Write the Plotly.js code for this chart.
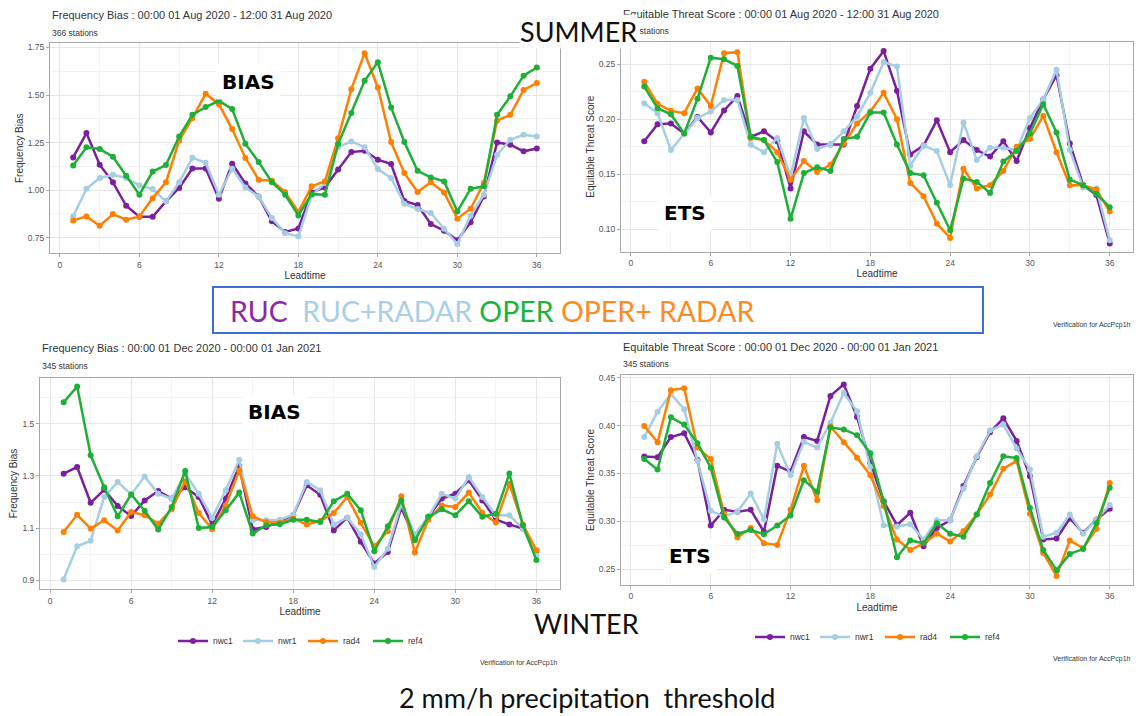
<!DOCTYPE html>
<html><head><meta charset="utf-8">
<script src="https://cdn.plot.ly/plotly-3.0.1.min.js"></script>
<style>html,body{margin:0;padding:0;background:#fff}#chart{width:1140px;height:716px}</style>
</head><body><div id="chart"></div>
<script>
// ---------- data ----------
const leadtime = [1,2,3,4,5,6,7,8,9,10,11,12,13,14,15,16,17,18,19,20,21,22,23,24,25,26,27,28,29,30,31,32,33,34,35,36];
const seriesNames = ["nwc1","nwr1","rad4","ref4"];
const seriesColors = ["#7A1F9E","#A6CEE3","#FF8000","#1DAF36"];

const summerBias_nwc1 = [1.172,1.300,1.134,1.041,0.918,0.860,0.860,0.941,1.011,1.114,1.114,0.955,1.139,1.035,0.967,0.836,0.780,0.799,0.988,1.014,1.109,1.200,1.207,1.160,1.137,0.943,0.922,0.822,0.787,0.736,0.831,0.967,1.251,1.239,1.204,1.219];
const summerBias_nwr1 = [0.862,1.007,1.064,1.081,1.064,1.025,1.006,0.941,1.041,1.170,1.144,0.976,1.113,1.014,0.967,0.853,0.774,0.757,0.971,1.037,1.226,1.256,1.226,1.111,1.064,0.929,0.901,0.880,0.797,0.717,0.866,0.976,1.186,1.265,1.291,1.282];
const summerBias_rad4 = [0.841,0.862,0.813,0.874,0.845,0.862,0.958,1.041,1.261,1.379,1.507,1.452,1.321,1.169,1.055,1.050,0.990,0.885,1.020,1.046,1.273,1.531,1.720,1.540,1.253,1.090,0.990,1.041,0.988,0.850,0.902,1.037,1.365,1.396,1.527,1.563];
const summerBias_ref4 = [1.130,1.225,1.216,1.176,1.076,0.976,1.098,1.132,1.282,1.396,1.437,1.470,1.426,1.244,1.148,1.042,0.976,0.867,0.979,0.976,1.242,1.405,1.575,1.673,1.435,1.253,1.102,1.067,1.046,0.888,1.007,1.020,1.396,1.493,1.602,1.645];

const summerETS_nwc1 = [0.180,0.1955,0.196,0.187,0.202,0.188,0.208,0.221,0.184,0.189,0.180,0.137,0.189,0.177,0.177,0.177,0.212,0.246,0.262,0.226,0.168,0.176,0.199,0.170,0.181,0.172,0.166,0.180,0.162,0.192,0.218,0.240,0.178,0.140,0.131,0.087];
const summerETS_nwr1 = [0.2145,0.2055,0.172,0.187,0.201,0.207,0.2175,0.2175,0.1767,0.170,0.183,0.148,0.201,0.173,0.177,0.189,0.2025,0.224,0.252,0.248,0.158,0.176,0.171,0.140,0.197,0.163,0.174,0.174,0.172,0.201,0.218,0.245,0.172,0.138,0.137,0.090];
const summerETS_rad4 = [0.234,0.214,0.2076,0.2055,0.228,0.212,0.260,0.261,0.183,0.181,0.170,0.145,0.162,0.152,0.1585,0.178,0.196,0.207,0.224,0.200,0.142,0.130,0.105,0.092,0.155,0.137,0.140,0.153,0.175,0.182,0.203,0.170,0.140,0.140,0.136,0.116];
const summerETS_ref4 = [0.2297,0.210,0.2045,0.187,0.2185,0.256,0.2545,0.2485,0.184,0.181,0.161,0.1094,0.151,0.1564,0.153,0.182,0.184,0.206,0.206,0.177,0.151,0.149,0.124,0.099,0.146,0.143,0.133,0.1615,0.171,0.187,0.2136,0.188,0.145,0.140,0.132,0.120];

const winterBias_nwc1 = [1.3085,1.334,1.197,1.247,1.185,1.146,1.206,1.242,1.213,1.257,1.219,1.113,1.213,1.337,1.095,1.104,1.127,1.149,1.264,1.228,1.091,1.140,1.047,0.964,1.008,1.178,1.060,1.143,1.213,1.232,1.283,1.206,1.132,1.114,1.098,1.012];
const winterBias_nwr1 = [0.903,1.030,1.051,1.219,1.277,1.229,1.298,1.232,1.213,1.309,1.232,1.139,1.245,1.362,1.130,1.130,1.132,1.151,1.277,1.245,1.114,1.140,1.076,0.951,1.021,1.191,1.076,1.143,1.232,1.213,1.296,1.219,1.149,1.149,1.098,0.996];
const winterBias_rad4 = [1.085,1.151,1.098,1.130,1.091,1.162,1.149,1.117,1.172,1.280,1.158,1.095,1.187,1.321,1.145,1.123,1.120,1.136,1.114,1.127,1.158,1.219,1.120,1.030,1.088,1.222,1.006,1.132,1.187,1.181,1.236,1.158,1.121,1.270,1.114,1.015];
const winterBias_ref4 = [1.583,1.643,1.379,1.257,1.145,1.229,1.166,1.094,1.181,1.319,1.100,1.104,1.168,1.236,1.079,1.111,1.115,1.132,1.132,1.123,1.203,1.232,1.168,1.011,1.107,1.206,1.053,1.143,1.172,1.149,1.203,1.143,1.155,1.309,1.111,0.977];

const winterETS_nwc1 = [0.3676,0.367,0.388,0.392,0.364,0.2956,0.312,0.310,0.312,0.289,0.358,0.352,0.388,0.384,0.431,0.443,0.409,0.361,0.321,0.296,0.309,0.274,0.293,0.301,0.337,0.367,0.393,0.4076,0.384,0.347,0.281,0.282,0.303,0.288,0.302,0.313];
const winterETS_nwr1 = [0.388,0.4145,0.433,0.417,0.363,0.311,0.305,0.310,0.329,0.302,0.381,0.348,0.383,0.377,0.403,0.434,0.415,0.357,0.296,0.2945,0.297,0.281,0.301,0.301,0.334,0.368,0.395,0.401,0.376,0.354,0.284,0.288,0.307,0.287,0.302,0.317];
const winterETS_rad4 = [0.3996,0.3825,0.437,0.439,0.377,0.365,0.308,0.283,0.293,0.277,0.2754,0.312,0.358,0.322,0.399,0.3825,0.3665,0.348,0.316,0.281,0.270,0.277,0.287,0.279,0.290,0.307,0.328,0.355,0.363,0.308,0.267,0.243,0.280,0.272,0.292,0.340];
const winterETS_ref4 = [0.365,0.354,0.4086,0.401,0.3815,0.356,0.304,0.287,0.291,0.2865,0.2956,0.306,0.343,0.331,0.398,0.396,0.390,0.371,0.321,0.2625,0.280,0.277,0.298,0.287,0.284,0.307,0.340,0.368,0.366,0.314,0.270,0.249,0.266,0.271,0.298,0.335];

const xTicks = [0,6,12,18,24,30,36];
const summerBiasTicks = [0.75,1.00,1.25,1.50,1.75];
const summerBiasTickText = ["0.75","1.00","1.25","1.50","1.75"];
const summerETSTicks = [0.10,0.15,0.20,0.25];
const summerETSTickText = ["0.10","0.15","0.20","0.25"];
const winterBiasTicks = [0.9,1.1,1.3,1.5];
const winterBiasTickText = ["0.9","1.1","1.3","1.5"];
const winterETSTicks = [0.25,0.30,0.35,0.40,0.45];
const winterETSTickText = ["0.25","0.30","0.35","0.40","0.45"];

// ---------- build ----------
const W = 1140, H = 716;
const FONT = "Liberation Sans, Arial, sans-serif";
const panels = [
  {ax:"", data:[summerBias_nwc1,summerBias_nwr1,summerBias_rad4,summerBias_ref4], legend:null},
  {ax:"2", data:[summerETS_nwc1,summerETS_nwr1,summerETS_rad4,summerETS_ref4], legend:null},
  {ax:"3", data:[winterBias_nwc1,winterBias_nwr1,winterBias_rad4,winterBias_ref4], legend:"legend"},
  {ax:"4", data:[winterETS_nwc1,winterETS_nwr1,winterETS_rad4,winterETS_ref4], legend:"legend2"}
];
const traces = [];
panels.forEach(p => {
  p.data.forEach((ys, i) => {
    traces.push({
      x: leadtime, y: ys, type: "scatter", mode: "lines+markers",
      xaxis: "x" + p.ax, yaxis: "y" + p.ax,
      name: seriesNames[i],
      line: {color: seriesColors[i], width: 2.5},
      marker: {color: seriesColors[i], size: 6},
      showlegend: !!p.legend,
      legend: p.legend || "legend",
      hoverinfo: "skip"
    });
  });
});

function px2x(px){ return px / W; }
function py2y(py){ return 1 - py / H; }

function xAxis(anchor, l, r){
  return {
    domain: [px2x(l), px2x(r)], anchor: anchor, range: [-0.75, 37.75],
    tickvals: xTicks, ticktext: xTicks.map(String),
    showgrid: true, gridcolor: "#E6E6E6", gridwidth: 1,
    minor: {dtick: 3, tick0: 0, showgrid: true, gridcolor: "#F3F3F3", gridwidth: 1},
    zeroline: false, showline: true, mirror: true, linecolor: "#A8A8A8", linewidth: 1,
    ticks: "outside", ticklen: 3, tickcolor: "#A8A8A8",
    tickfont: {family: FONT, size: 8.5, color: "#555"},
    title: {text: "Leadtime", font: {family: FONT, size: 10, color: "#333"}, standoff: 3},
    automargin: false, fixedrange: true
  };
}
function yAxis(anchor, t, b, range, tv, tt, minorStep, title){
  return {
    domain: [py2y(b), py2y(t)], anchor: anchor, range: range,
    tickvals: tv, ticktext: tt,
    showgrid: true, gridcolor: "#E6E6E6", gridwidth: 1,
    minor: {dtick: minorStep, tick0: tv[0], showgrid: true, gridcolor: "#F3F3F3", gridwidth: 1},
    zeroline: false, showline: true, mirror: true, linecolor: "#A8A8A8", linewidth: 1,
    ticks: "outside", ticklen: 3, tickcolor: "#A8A8A8",
    tickfont: {family: FONT, size: 8.5, color: "#555"},
    title: {text: title, font: {family: FONT, size: 10, color: "#333"}, standoff: 2},
    automargin: false, fixedrange: true
  };
}

const legendCommon = {orientation: "h", xanchor: "center", yanchor: "middle",
  font: {family: FONT, size: 8.5, color: "#333"}, bgcolor: "rgba(0,0,0,0)", itemwidth: 30,
  tracegroupgap: 0, entrywidth: 20, entrywidthmode: "pixels"};

const layout = {
  width: W, height: H, margin: {l:0, r:0, t:0, b:0},
  paper_bgcolor: "#fff", plot_bgcolor: "#fff",
  font: {family: FONT},
  xaxis: xAxis("y", 50, 560),
  yaxis: yAxis("x", 43.3, 253.3, [0.668, 1.772], summerBiasTicks, summerBiasTickText, 0.125, "Frequency Bias"),
  xaxis2: xAxis("y2", 621, 1133),
  yaxis2: yAxis("x2", 41.7, 251.7, [0.0795, 0.2705], summerETSTicks, summerETSTickText, 0.025, "Equitable Threat Score"),
  xaxis3: xAxis("y3", 40, 560),
  yaxis3: yAxis("x3", 377.7, 589.3, [0.865, 1.677], winterBiasTicks, winterBiasTickText, 0.1, "Frequency Bias"),
  xaxis4: xAxis("y4", 621, 1133),
  yaxis4: yAxis("x4", 375, 585, [0.2335, 0.4528], winterETSTicks, winterETSTickText, 0.025, "Equitable Threat Score"),
  legend: Object.assign({}, legendCommon, {x: px2x(303), y: py2y(641)}),
  legend2: Object.assign({}, legendCommon, {x: px2x(880), y: py2y(637)}),
  shapes: [
    {type: "rect", xref: "paper", yref: "paper", x0: px2x(213), x1: px2x(983), y0: py2y(333), y1: py2y(287),
     line: {color: "#3A6FD6", width: 2}, fillcolor: "rgba(0,0,0,0)"}
  ],
  annotations: []
};

function ann(text, x, y, opts){
  const a = Object.assign({text: text, xref: "paper", yref: "paper", x: px2x(x), y: py2y(y),
    showarrow: false, xanchor: "left", yanchor: "middle",
    font: {family: FONT, size: 11, color: "#333"}}, opts || {});
  layout.annotations.push(a);
}
// panel titles & subtitles
ann("Frequency Bias : 00:00 01 Aug 2020 - 12:00 31 Aug 2020", 50, 15);
ann("366 stations", 50, 33, {font: {family: FONT, size: 8.5, color: "#333"}});
ann("Equitable Threat Score : 00:00 01 Aug 2020 - 12:00 31 Aug 2020", 621, 14);
ann("366 stations", 621, 31, {font: {family: FONT, size: 8.5, color: "#333"}});
ann("Frequency Bias : 00:00 01 Dec 2020 - 00:00 01 Jan 2021", 40, 348);
ann("345 stations", 40, 366, {font: {family: FONT, size: 8.5, color: "#333"}});
ann("Equitable Threat Score : 00:00 01 Dec 2020 - 00:00 01 Jan 2021", 621, 347);
ann("345 stations", 621, 364, {font: {family: FONT, size: 8.5, color: "#333"}});
// captions
const small = {family: FONT, size: 7, color: "#333"};
ann("Verification for AccPcp1h", 1133, 325, {xanchor: "right", font: small});
ann("Verification for AccPcp1h", 560, 663, {xanchor: "right", font: small});
ann("Verification for AccPcp1h", 1133, 659, {xanchor: "right", font: small});
// metric labels
const big = {family: "DejaVu Sans, sans-serif", size: 20, color: "#000", weight: "bold"};
ann("<b>BIAS</b>", 248, 82, {xanchor: "center", font: big, bgcolor: "#fff", borderpad: 5});
ann("<b>ETS</b>", 685, 213, {xanchor: "center", font: big, bgcolor: "#fff", borderpad: 5});
ann("<b>BIAS</b>", 274, 412, {xanchor: "center", font: big, bgcolor: "#fff", borderpad: 5});
ann("<b>ETS</b>", 690, 556, {xanchor: "center", font: big, bgcolor: "#fff", borderpad: 5});
// season headers
const season = {family: "Lato, Open Sans, sans-serif", size: 27, color: "#111"};
ann("SUMMER", 578, 32, {xanchor: "center", font: season, bgcolor: "rgba(255,255,255,0.9)", borderpad: 0});
ann("WINTER", 586, 623, {xanchor: "center", font: season});
ann("2 mm/h precipitation&nbsp;&nbsp;threshold", 587, 697, {xanchor: "center", font: {family: "Lato, Open Sans, sans-serif", size: 27, color: "#111"}});
// model legend box
ann('<span style="color:#8A28A8">RUC</span>&nbsp;&nbsp;<span style="color:#A9CFE6">RUC+RADAR</span> <span style="color:#1DB33B">OPER</span> <span style="color:#FF8A1F">OPER+ RADAR</span>',
    228, 311, {font: {family: "Lato, Open Sans, sans-serif", size: 28.5, color: "#333"}});

Plotly.newPlot("chart", traces, layout, {displayModeBar: false, staticPlot: true});
</script>
</body></html>
